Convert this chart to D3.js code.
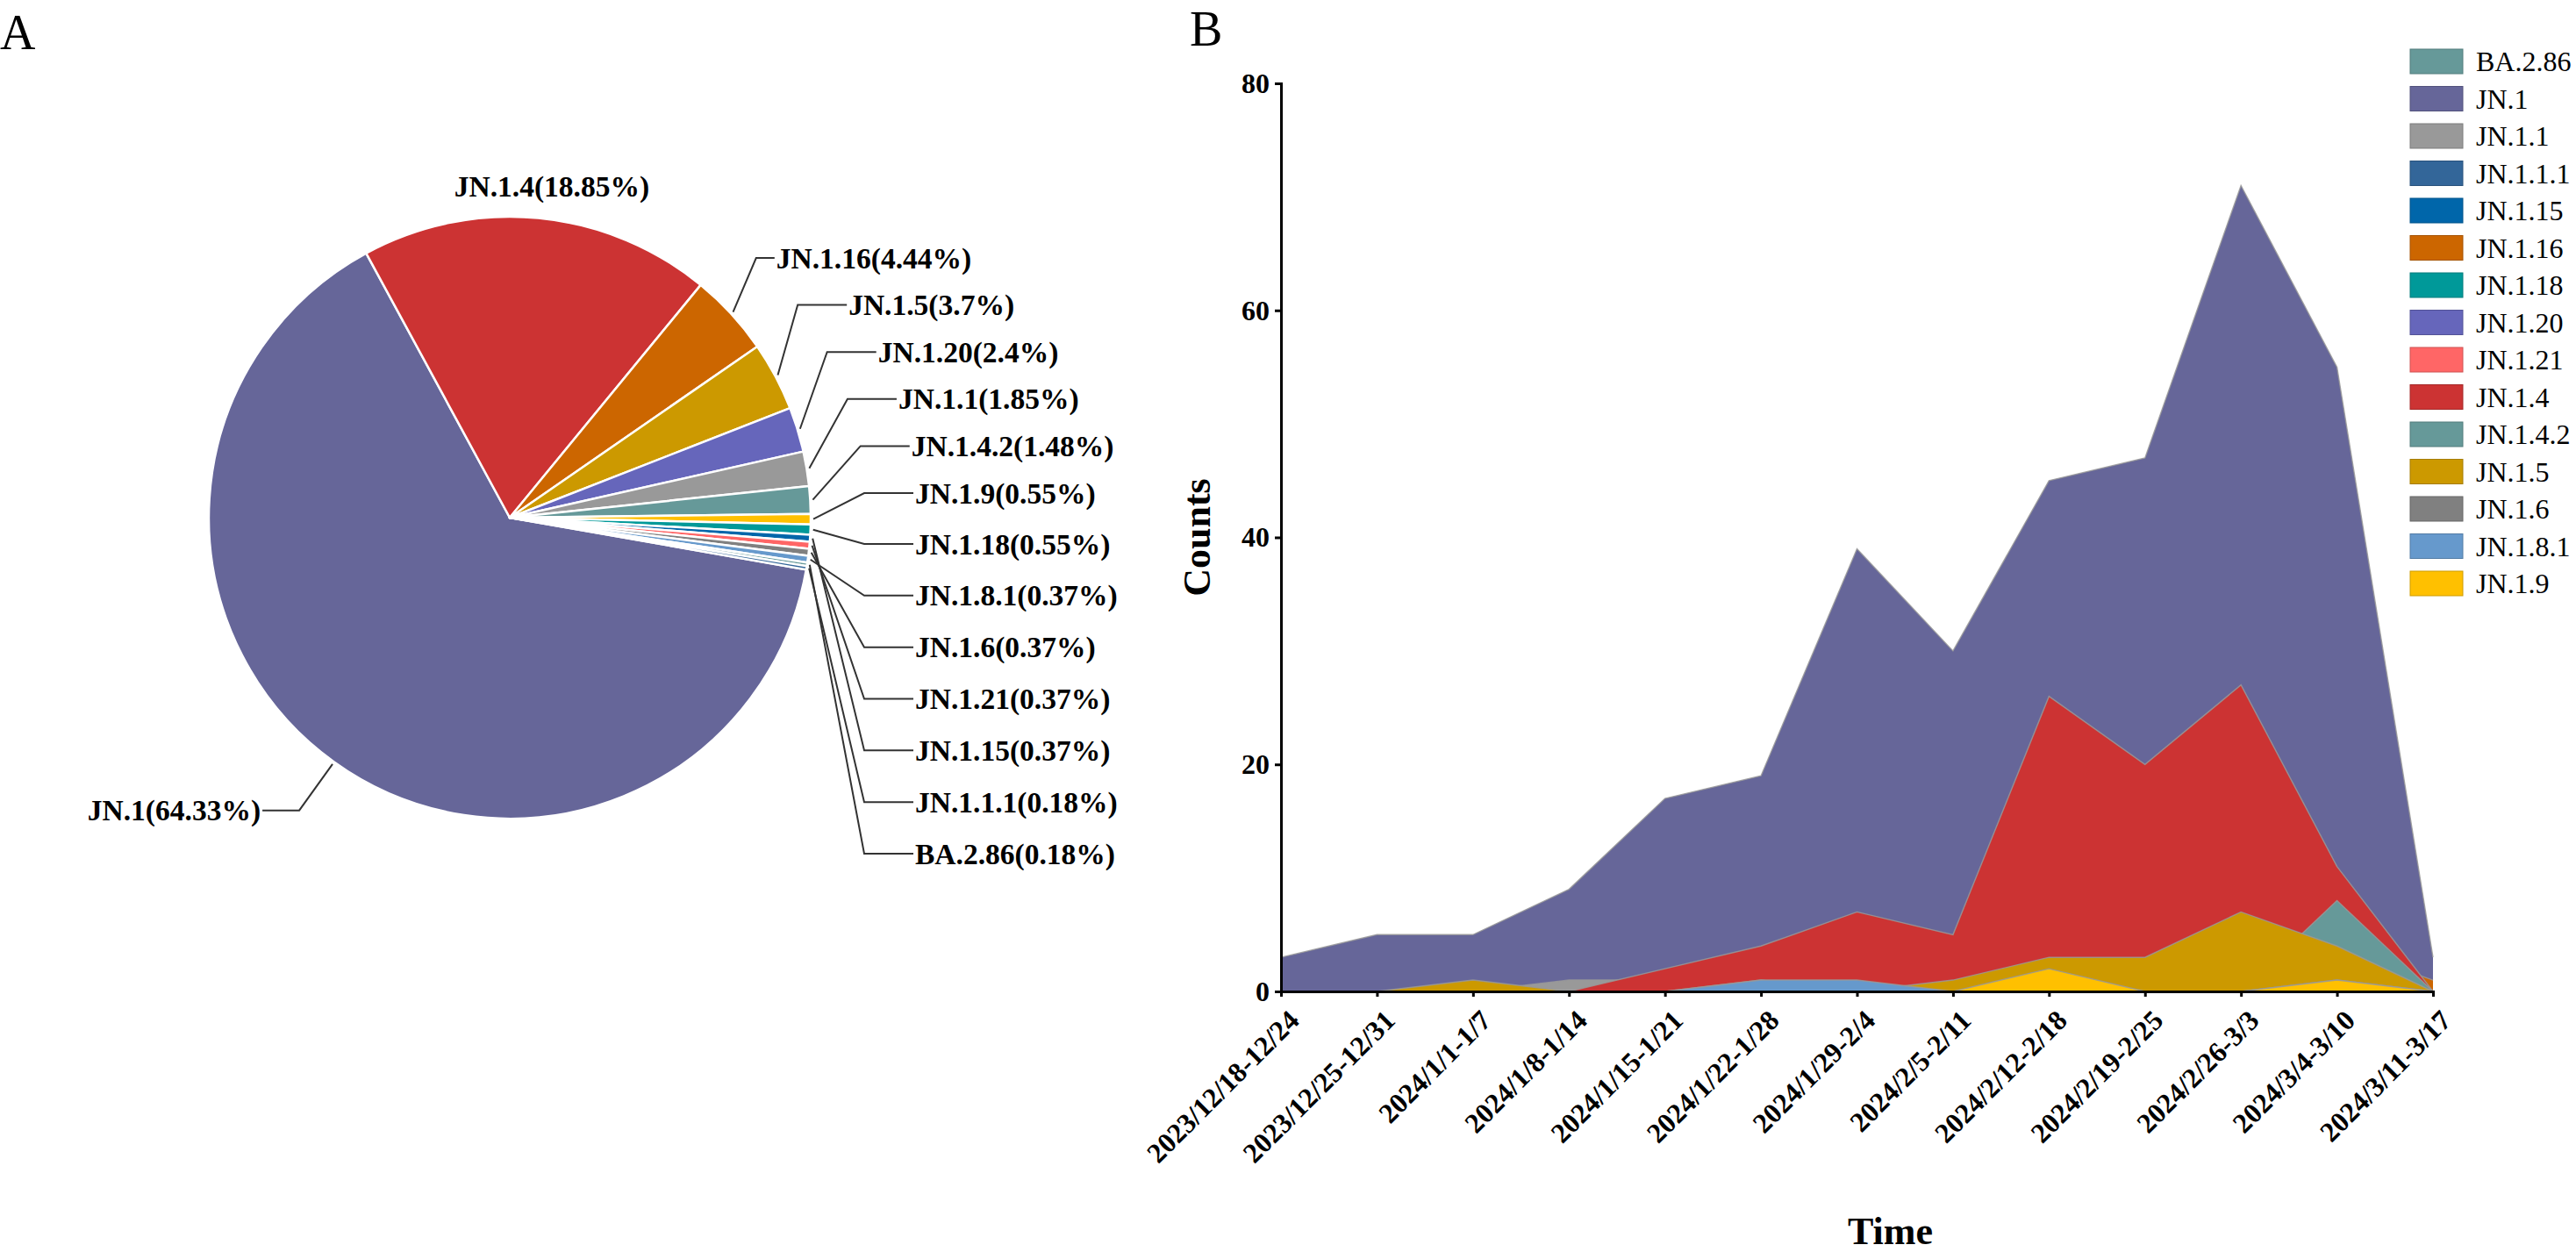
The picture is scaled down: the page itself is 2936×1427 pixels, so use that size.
<!DOCTYPE html>
<html>
<head>
<meta charset="utf-8">
<script src="https://cdn.jsdelivr.net/npm/d3@7"></script>
<style>
  body { margin: 0; background: #fff; }
  svg { display: block; }
</style>
</head>
<body>
<svg id="chart"></svg>
<script>
// ---- data: panel A (pie, sample counts per lineage) ----
const pieNames = ["JN.1", "JN.1.4", "JN.1.16", "JN.1.5", "JN.1.20", "JN.1.1", "JN.1.4.2",
    "JN.1.9", "JN.1.18", "JN.1.15", "JN.1.21", "JN.1.6", "JN.1.8.1", "BA.2.86", "JN.1.1.1"];
const pieCounts = [348, 102, 24, 20, 13, 10, 8, 3, 3, 2, 2, 2, 2, 1, 1];
// order of the stacked labels on the right of the pie
const rightLabels = ["JN.1.16", "JN.1.5", "JN.1.20", "JN.1.1", "JN.1.4.2", "JN.1.9",
    "JN.1.18", "JN.1.8.1", "JN.1.6", "JN.1.21", "JN.1.15", "JN.1.1.1", "BA.2.86"];

// ---- data: panel B (weekly counts) ----
const weeks = ["2023/12/18-12/24", "2023/12/25-12/31", "2024/1/1-1/7", "2024/1/8-1/14",
    "2024/1/15-1/21", "2024/1/22-1/28", "2024/1/29-2/4", "2024/2/5-2/11", "2024/2/12-2/18",
    "2024/2/19-2/25", "2024/2/26-3/3", "2024/3/4-3/10", "2024/3/11-3/17"];
const lineages = ["BA.2.86", "JN.1", "JN.1.1", "JN.1.1.1", "JN.1.15", "JN.1.16", "JN.1.18",
    "JN.1.20", "JN.1.21", "JN.1.4", "JN.1.4.2", "JN.1.5", "JN.1.6", "JN.1.8.1", "JN.1.9"];
const colors = ["#669999", "#666699", "#999999", "#336699", "#0066aa", "#cc6600", "#009999",
    "#6666bb", "#ff6666", "#cc3333", "#669999", "#cc9900", "#808080", "#6699cc", "#ffc000"];

const ba286  = [0, 0, 0, 0, 0, 0, 1, 0, 0, 0, 0, 0, 0];
const jn1    = [3, 5, 5, 9, 17, 19, 39, 30, 45, 47, 71, 55, 3];
const jn11   = [0, 0, 0, 1, 1, 1, 1, 1, 2, 1, 1, 1, 0];
const jn111  = [0, 0, 0, 0, 0, 0, 0, 0, 0, 0, 1, 0, 0];
const jn115  = [0, 0, 0, 0, 0, 0, 0, 0, 0, 1, 0, 1, 0];
const jn116  = [0, 0, 0, 0, 0, 0, 1, 1, 5, 5, 7, 4, 1];
const jn118  = [0, 0, 0, 0, 0, 0, 0, 0, 1, 1, 1, 0, 0];
const jn120  = [0, 0, 0, 0, 0, 0, 1, 0, 3, 3, 4, 2, 0];
const jn121  = [0, 0, 0, 0, 0, 0, 0, 0, 1, 0, 1, 0, 0];
const jn14   = [0, 0, 0, 0, 2, 4, 7, 5, 26, 20, 27, 11, 0];
const jn142  = [0, 0, 0, 0, 0, 0, 0, 0, 0, 0, 0, 8, 0];
const jn15   = [0, 0, 1, 0, 0, 1, 0, 1, 3, 3, 7, 4, 0];
const jn16   = [0, 0, 0, 0, 0, 0, 0, 0, 1, 0, 0, 1, 0];
const jn181  = [0, 0, 0, 0, 0, 1, 1, 0, 0, 0, 0, 0, 0];
const jn19   = [0, 0, 0, 0, 0, 0, 0, 0, 2, 0, 0, 1, 0];
const seriesValues = [ba286, jn1, jn11, jn111, jn115, jn116, jn118, jn120, jn121,
    jn14, jn142, jn15, jn16, jn181, jn19];
const yTicks = [0, 20, 40, 60, 80];

// ---- setup ----
const width = 2936;
const height = 1427;
const serif = "'Liberation Serif', 'Times New Roman', Times, serif";
const colorOf = {};
lineages.forEach((n, i) => colorOf[n] = colors[i]);

const svg = d3.select("#chart")
    .attr("width", width)
    .attr("height", height)
    .style("font-family", serif);

svg.append("rect").attr("width", width).attr("height", height).attr("fill", "#fff");

// panel letters
svg.append("text").attr("x", 0).attr("y", 56).attr("font-size", 56).text("A");
svg.append("text").attr("x", 1356).attr("y", 52).attr("font-size", 56).text("B");

// ================= Panel A: pie =================
const cx = 581, cy = 590, r = 343;
const total = d3.sum(pieCounts);
const pct = v => +(v / total * 100).toFixed(2);
const start = 99.93 * Math.PI / 180;

const pie = d3.pie()
    .sort(null)
    .value(d => d.count)
    .startAngle(start)
    .endAngle(start + 2 * Math.PI);
const slices = pie(pieNames.map((n, i) => ({ name: n, count: pieCounts[i] })));
const arc = d3.arc().innerRadius(0).outerRadius(r);

const gPie = svg.append("g");
gPie.append("g")
    .attr("transform", `translate(${cx},${cy})`)
    .selectAll("path")
    .data(slices)
    .join("path")
    .attr("d", arc)
    .attr("fill", d => colorOf[d.data.name])
    .attr("stroke", "#fff")
    .attr("stroke-width", 2.5)
    .attr("stroke-linejoin", "round");

const mid = d => (d.startAngle + d.endAngle) / 2;
const polar = (a, rad) => [cx + rad * Math.sin(a), cy - rad * Math.cos(a)];
const labelText = d => `${d.data.name}(${pct(d.data.count)}%)`;
const byName = {};
slices.forEach(d => byName[d.data.name] = d);

const labelStyle = sel => sel
    .attr("font-size", 33.5)
    .attr("font-weight", "bold")
    .attr("dominant-baseline", "central")
    .attr("fill", "#000");

// JN.1.4: label just outside its slice, no leader
{
    const d = byName["JN.1.4"];
    const [lx, ly] = polar(mid(d), r + 36);
    gPie.append("text").call(labelStyle)
        .attr("x", lx + 12).attr("y", ly)
        .attr("text-anchor", "middle")
        .text(labelText(d));
}

// JN.1: label on the left with a leader
{
    const d = byName["JN.1"];
    const p0 = polar(mid(d), r + 3);
    const p1 = polar(mid(d), r + 68);
    const p2 = [p1[0] - 42, p1[1]];
    gPie.append("polyline")
        .attr("points", [p0, p1, p2].map(p => p.join(",")).join(" "))
        .attr("fill", "none").attr("stroke", "#333").attr("stroke-width", 2);
    gPie.append("text").call(labelStyle)
        .attr("x", p2[0] - 2).attr("y", p2[1])
        .attr("text-anchor", "end")
        .text(labelText(d));
}

// small slices: labels stacked on the right
const upperY = d3.scalePoint().domain(rightLabels.slice(0, 6)).range([294, 562]);
const lowerY = d3.scalePoint().domain(rightLabels.slice(6)).range([620, 973]);
rightLabels.forEach((name, i) => {
    const d = byName[name];
    const ly = i < 6 ? upperY(name) : lowerY(name);
    const dy = ly - cy;
    const R = r + 65;
    const maxDx = r + 61;
    const ex = cx + (dy < 0 ? Math.min(Math.sqrt(Math.max(0, R * R - dy * dy)), maxDx) : maxDx);
    const tx = ex + (ex < 900 ? 23 : 58);
    const p0 = polar(mid(d), r + 3);
    gPie.append("polyline")
        .attr("points", [p0, [ex, ly], [tx - 2, ly]].map(p => p.join(",")).join(" "))
        .attr("fill", "none").attr("stroke", "#333").attr("stroke-width", 2);
    gPie.append("text").call(labelStyle)
        .attr("x", tx).attr("y", ly)
        .attr("text-anchor", "start")
        .text(labelText(d));
});

// ================= Panel B: overlapping areas =================
const x = d3.scalePoint().domain(weeks).range([1460, 2773]);
const y = d3.scaleLinear().domain([0, 80]).range([1130, 95]);

const area = d3.area()
    .x((d, i) => x(weeks[i]))
    .y0(y(0))
    .y1(d => y(d));
const line = d3.line()
    .x((d, i) => x(weeks[i]))
    .y(d => y(d));

const gArea = svg.append("g");
seriesValues.forEach((vals, i) => {
    gArea.append("path")
        .attr("d", area(vals))
        .attr("fill", colors[i]);
    gArea.append("path")
        .attr("d", line(vals))
        .attr("fill", "none")
        .attr("stroke", "#999")
        .attr("stroke-opacity", 0.85)
        .attr("stroke-width", 1.4);
});

// axes
const yAxis = svg.append("g")
    .attr("transform", `translate(${x.range()[0]},0)`)
    .call(d3.axisLeft(y).tickValues(yTicks).tickSize(7).tickPadding(6).tickSizeOuter(0))
    .attr("font-family", serif)
    .attr("font-size", 32)
    .attr("font-weight", "bold");
yAxis.select(".domain").attr("stroke-width", 3).attr("stroke-linecap", "square");
yAxis.selectAll(".tick line").attr("stroke-width", 3);
yAxis.selectAll(".tick text").attr("fill", "#000");

const xAxis = svg.append("g")
    .attr("transform", `translate(0,${y(0)})`)
    .call(d3.axisBottom(x).tickSize(6).tickSizeOuter(0))
    .attr("font-family", serif)
    .attr("font-size", 32)
    .attr("font-weight", "bold");
xAxis.select(".domain").attr("stroke-width", 3).attr("stroke-linecap", "square");
xAxis.selectAll(".tick line").attr("stroke-width", 3);
xAxis.selectAll(".tick text")
    .attr("fill", "#000")
    .attr("x", 0)
    .attr("y", 0)
    .attr("dy", null)
    .attr("text-anchor", "end")
    .attr("transform", "translate(22,35) rotate(-45)");

// axis titles
svg.append("text")
    .attr("transform", `translate(1379,${(y(0) + y(80)) / 2}) rotate(-90)`)
    .attr("text-anchor", "middle")
    .attr("font-size", 44)
    .attr("font-weight", "bold")
    .text("Counts");
svg.append("text")
    .attr("x", (x.range()[0] + x.range()[1]) / 2 + 38)
    .attr("y", 1418)
    .attr("text-anchor", "middle")
    .attr("font-size", 44)
    .attr("font-weight", "bold")
    .text("Time");

// legend
const legend = svg.append("g").attr("transform", "translate(2747,70)");
const rows = legend.selectAll("g")
    .data(lineages)
    .join("g")
    .attr("transform", (d, i) => `translate(0,${i * 42.5})`);
rows.append("rect")
    .attr("x", 0).attr("y", -14)
    .attr("width", 60).attr("height", 28)
    .attr("fill", (d, i) => colors[i])
    .attr("stroke", (d, i) => d3.color(colors[i]).darker(0.6))
    .attr("stroke-width", 1);
rows.append("text")
    .attr("x", 75).attr("y", 0)
    .attr("dominant-baseline", "central")
    .attr("font-size", 32)
    .text(d => d);
</script>
</body>
</html>
